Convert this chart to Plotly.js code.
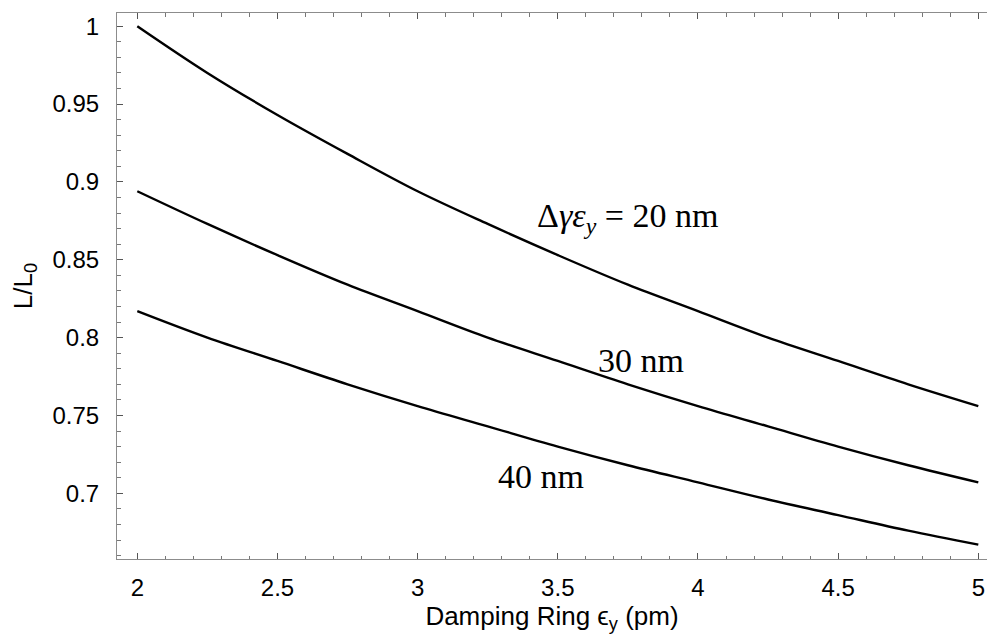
<!DOCTYPE html>
<html>
<head>
<meta charset="utf-8">
<script src="https://cdn.plot.ly/plotly-3.0.1.min.js"></script>
<style>html,body{margin:0;padding:0;background:#fff;}#chart{width:987px;height:637px;}</style>
</head>
<body>
<div id="chart"></div>
<script>
// Damping ring vertical emittance (pm)
const epsY = [2, 2.25, 2.5, 2.75, 3, 3.25, 3.5, 3.75, 4, 4.25, 4.5, 4.75, 5];
// L/L0 for emittance growth 20 nm, 30 nm, 40 nm
const lum20 = [1.000, 0.970, 0.943, 0.918, 0.894, 0.873, 0.853, 0.834, 0.817, 0.800, 0.785, 0.770, 0.756];
const lum30 = [0.894, 0.873, 0.853, 0.834, 0.817, 0.800, 0.785, 0.770, 0.756, 0.743, 0.730, 0.718, 0.707];
const lum40 = [0.817, 0.800, 0.785, 0.770, 0.756, 0.743, 0.730, 0.718, 0.707, 0.696, 0.686, 0.676, 0.667];
const curveLabels = ['Δ<i>γε</i><sub><i>y</i></sub> = 20 nm', '30 nm', '40 nm'];
const labelX = [3.748, 3.797, 3.441];
const labelY = [0.877, 0.785, 0.711];
const xTicks = [2, 2.5, 3, 3.5, 4, 4.5, 5];
const xTickText = ['2', '2.5', '3', '3.5', '4', '4.5', '5'];
const yTicks = [0.7, 0.75, 0.8, 0.85, 0.9, 0.95, 1];
const yTickText = ['0.7', '0.75', '0.8', '0.85', '0.9', '0.95', '1'];

const series = [lum20, lum30, lum40];
const traces = series.map(function (ys) {
  return {
    x: epsY, y: ys, type: 'scatter', mode: 'lines',
    line: {color: '#000', width: 2.4, shape: 'spline', smoothing: 1},
    hoverinfo: 'skip', showlegend: false
  };
});

const annotations = curveLabels.map(function (t, i) {
  return {
    x: labelX[i], y: labelY[i], xref: 'x', yref: 'y', text: t, showarrow: false,
    font: {family: 'Liberation Serif, Times New Roman, serif', size: 34, color: '#000'}
  };
});

const axisCommon = {
  showgrid: false, zeroline: false, showline: true,
  linecolor: '#8c8c8c', linewidth: 1,
  ticks: 'inside', ticklen: 6, tickwidth: 1, tickcolor: '#555',
  tickfont: {family: 'Liberation Sans, Arial, sans-serif', size: 24, color: '#000'}
};

const layout = {
  width: 987, height: 637,
  margin: {l: 117, r: 0, t: 13, b: 78},
  paper_bgcolor: '#fff', plot_bgcolor: '#fff',
  showlegend: false,
  xaxis: Object.assign({}, axisCommon, {
    range: [1.9276, 5.031], mirror: 'ticks',
    tickmode: 'array', tickvals: xTicks, ticktext: xTickText,
    ticklabelstandoff: 7,
    minor: {ticks: 'inside', dtick: 0.1, ticklen: 3.5, tickcolor: '#777', tick0: 0},
    title: {text: 'Damping Ring ϵ<sub>y</sub> (pm)', standoff: 6,
      font: {family: 'Liberation Sans, Arial, sans-serif', size: 26, color: '#000'}}
  }),
  yaxis: Object.assign({}, axisCommon, {
    range: [0.6578, 1.0085], mirror: false,
    tickmode: 'array', tickvals: yTicks, ticktext: yTickText,
    ticklabelstandoff: 12,
    minor: {ticks: 'inside', dtick: 0.01, ticklen: 3.5, tickcolor: '#777', tick0: 0},
    title: {text: 'L/L<sub>0</sub>', standoff: 12,
      font: {family: 'Liberation Sans, Arial, sans-serif', size: 26, color: '#000'}}
  }),
  annotations: annotations
};

Plotly.newPlot('chart', traces, layout, {displayModeBar: false, staticPlot: true});
</script>
</body>
</html>
